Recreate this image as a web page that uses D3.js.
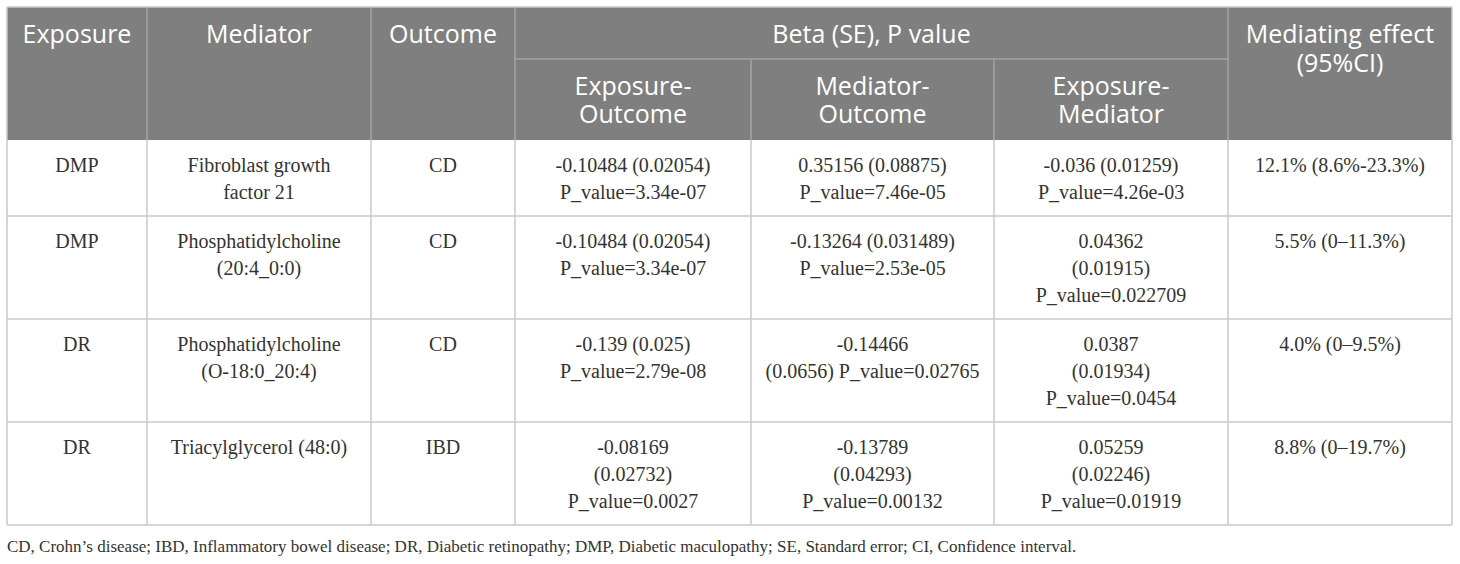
<!DOCTYPE html>
<html>
<head>
<meta charset="utf-8">
<script src="https://cdn.jsdelivr.net/npm/d3@7"></script>
<style>
  body { margin: 0; background: #fff; }
  svg { display: block; }
</style>
</head>
<body>
<div id="chart"></div>
<script>
// table content
var headers = ["Exposure", "Mediator", "Outcome"];
var groupHeader = "Beta (SE), P value";
var subHeaders = [["Exposure-", "Outcome"], ["Mediator-", "Outcome"], ["Exposure-", "Mediator"]];
var lastHeader = ["Mediating effect", "(95%CI)"];

var exposures = ["DMP", "DMP", "DR", "DR"];
var mediators = [
  ["Fibroblast growth", "factor 21"],
  ["Phosphatidylcholine", "(20:4_0:0)"],
  ["Phosphatidylcholine", "(O-18:0_20:4)"],
  ["Triacylglycerol (48:0)"]
];
var outcomes = ["CD", "CD", "CD", "IBD"];
var exposureOutcome = [
  ["-0.10484 (0.02054)", "P_value=3.34e-07"],
  ["-0.10484 (0.02054)", "P_value=3.34e-07"],
  ["-0.139 (0.025)", "P_value=2.79e-08"],
  ["-0.08169", "(0.02732)", "P_value=0.0027"]
];
var mediatorOutcome = [
  ["0.35156 (0.08875)", "P_value=7.46e-05"],
  ["-0.13264 (0.031489)", "P_value=2.53e-05"],
  ["-0.14466", "(0.0656) P_value=0.02765"],
  ["-0.13789", "(0.04293)", "P_value=0.00132"]
];
var exposureMediator = [
  ["-0.036 (0.01259)", "P_value=4.26e-03"],
  ["0.04362", "(0.01915)", "P_value=0.022709"],
  ["0.0387", "(0.01934)", "P_value=0.0454"],
  ["0.05259", "(0.02246)", "P_value=0.01919"]
];
var mediatingEffect = ["12.1% (8.6%-23.3%)", "5.5% (0\u201311.3%)", "4.0% (0\u20139.5%)", "8.8% (0\u201319.7%)"];
var footnote = "CD, Crohn\u2019s disease; IBD, Inflammatory bowel disease; DR, Diabetic retinopathy; DMP, Diabetic maculopathy; SE, Standard error; CI, Confidence interval.";

var width = 1460, height = 564;
var colWidths = [140, 224, 144, 236, 243, 234, 224];
var tableLeft = 7, tableTop = 7, subLineY = 52, headH = 133;
var lineH = 27, rowPad = 22;
var headBg = "#7f7f7f", headLine = "#a3a3a3", gridLine = "#c8c8c8";
var serif = "'Liberation Serif', 'DejaVu Serif', serif";
var sans = "'Open Sans', 'Noto Sans', sans-serif";

var svg = d3.select("#chart").append("svg")
    .attr("width", width)
    .attr("height", height);

// column edges
var edges = [tableLeft];
colWidths.forEach(function(w){ edges.push(edges[edges.length - 1] + w); });
var tableRight = edges[edges.length - 1];
var x0 = function(i){ return edges[i]; };
var xc = function(i){ return (edges[i] + edges[i + 1]) / 2; };

// rows: cell lines per row, row height from the tallest cell
var rows = exposures.map(function(d, i){
  return [[d], mediators[i], [outcomes[i]], exposureOutcome[i], mediatorOutcome[i], exposureMediator[i], [mediatingEffect[i]]];
});
var rowTops = [tableTop + headH];
rows.forEach(function(r){
  var n = d3.max(r, function(c){ return c.length; });
  rowTops.push(rowTops[rowTops.length - 1] + rowPad + lineH * n);
});
var tableBottom = rowTops[rowTops.length - 1];

// header background
svg.append("rect")
    .attr("x", tableLeft).attr("y", tableTop)
    .attr("width", tableRight - tableLeft).attr("height", headH)
    .attr("fill", headBg);

// header lines
var subY = tableTop + subLineY;
var hLines = svg.append("g")
    .attr("stroke", headLine)
    .attr("stroke-width", 1.5);
hLines.append("line")
    .attr("x1", x0(3)).attr("x2", x0(6))
    .attr("y1", subY).attr("y2", subY);
[1, 2, 3, 6].forEach(function(i){
  hLines.append("line")
      .attr("x1", x0(i)).attr("x2", x0(i))
      .attr("y1", tableTop).attr("y2", tableTop + headH);
});
[4, 5].forEach(function(i){
  hLines.append("line")
      .attr("x1", x0(i)).attr("x2", x0(i))
      .attr("y1", subY).attr("y2", tableTop + headH);
});

// header text
var headText = svg.append("g")
    .attr("font-family", sans)
    .attr("font-size", 25)
    .attr("fill", "#fff")
    .attr("text-anchor", "middle");

headers.forEach(function(h, i){
  headText.append("text").attr("x", xc(i)).attr("y", tableTop + 36).text(h);
});
headText.append("text")
    .attr("x", (x0(3) + x0(6)) / 2).attr("y", tableTop + 36)
    .text(groupHeader);
subHeaders.forEach(function(s, i){
  s.forEach(function(t, j){
    headText.append("text").attr("x", xc(i + 3)).attr("y", tableTop + 88 + j * 28).text(t);
  });
});
lastHeader.forEach(function(t, j){
  headText.append("text").attr("x", xc(6)).attr("y", tableTop + 36 + j * 29).text(t);
});

// body grid
var grid = svg.append("g")
    .attr("stroke", gridLine)
    .attr("stroke-width", 1.5);
rowTops.forEach(function(y, k){
  if (k === 0) return;
  grid.append("line")
      .attr("x1", tableLeft).attr("x2", tableRight)
      .attr("y1", y).attr("y2", y);
});
edges.forEach(function(x){
  grid.append("line")
      .attr("x1", x).attr("x2", x)
      .attr("y1", rowTops[0]).attr("y2", tableBottom);
});
grid.append("line")
    .attr("x1", tableLeft).attr("x2", tableRight)
    .attr("y1", tableTop).attr("y2", tableTop);
[tableLeft, tableRight].forEach(function(x){
  grid.append("line")
      .attr("x1", x).attr("x2", x)
      .attr("y1", tableTop).attr("y2", tableTop + headH);
});

// body text
var body = svg.append("g")
    .attr("font-family", serif)
    .attr("font-size", 20)
    .attr("fill", "#333")
    .attr("text-anchor", "middle");

var rowG = body.selectAll("g.row")
    .data(rows)
    .enter().append("g")
    .attr("class", "row")
    .attr("transform", function(d, i){ return "translate(0," + rowTops[i] + ")"; });

rowG.selectAll("text.cell")
    .data(function(r){
      var out = [];
      r.forEach(function(lines, c){
        lines.forEach(function(t, j){ out.push({c: c, j: j, t: t}); });
      });
      return out;
    })
    .enter().append("text")
    .attr("class", "cell")
    .attr("x", function(d){ return xc(d.c); })
    .attr("y", function(d){ return 32 + d.j * lineH; })
    .text(function(d){ return d.t; });

// footnote
svg.append("text")
    .attr("x", tableLeft)
    .attr("y", tableBottom + 27)
    .attr("font-family", serif)
    .attr("font-size", 17)
    .attr("fill", "#333")
    .text(footnote);
</script>
</body>
</html>
